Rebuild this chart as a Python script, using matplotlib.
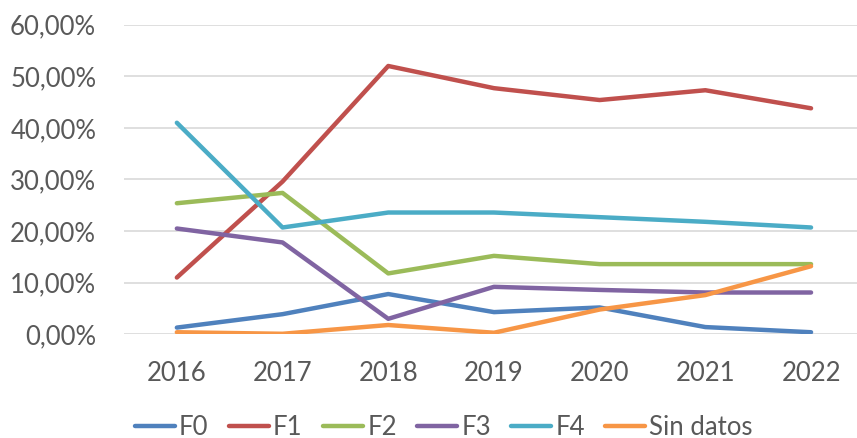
import matplotlib.pyplot as plt
from matplotlib.ticker import FuncFormatter

# Data (fractions)
years = ["2016", "2017", "2018", "2019", "2020", "2021", "2022"]
f0 = [0.013, 0.039, 0.078, 0.043, 0.052, 0.014, 0.004]
f1 = [0.110, 0.296, 0.520, 0.477, 0.454, 0.473, 0.438]
f2 = [0.254, 0.274, 0.118, 0.152, 0.136, 0.136, 0.136]
f3 = [0.205, 0.178, 0.030, 0.092, 0.086, 0.081, 0.081]
f4 = [0.410, 0.207, 0.236, 0.236, 0.227, 0.218, 0.207]
sin_datos = [0.004, 0.001, 0.018, 0.003, 0.048, 0.076, 0.132]

series = [("F0", f0, "#4F81BD"), ("F1", f1, "#C0504D"), ("F2", f2, "#9BBB59"),
          ("F3", f3, "#8064A2"), ("F4", f4, "#4BACC6"), ("Sin datos", sin_datos, "#F79646")]

plt.rcParams["font.family"] = ["Lato", "DejaVu Sans"]
text_col = "#595959"

fig = plt.figure(figsize=(8.57, 4.38), dpi=100)
W, H = 857, 438
left, right, top, bottom = 124, 857, 24.7, 334.3
ax = fig.add_axes([left / W, (H - bottom) / H, (right - left) / W, (bottom - top) / H])

x = list(range(len(years)))
for name, vals, col in series:
    ax.plot(x, vals, color=col, lw=3.2, label=name, solid_capstyle="round", solid_joinstyle="round")

ax.set_xlim(-0.5, -0.5 + (right - left) / 105.7)
ax.set_ylim(0, 0.6)
ax.set_yticks([i / 10 for i in range(7)])
ax.yaxis.set_major_formatter(FuncFormatter(lambda v, p: f"{v * 100:.2f}%".replace(".", ",")))
ax.set_xticks(x)
ax.set_xticklabels(years)
ax.grid(axis="y", color="#D9D9D9", lw=1.2)
ax.set_axisbelow(True)
for s in ax.spines.values():
    s.set_visible(False)
ax.tick_params(length=0, labelsize=18.5, colors=text_col)
ax.tick_params(axis="y", pad=20)
ax.tick_params(axis="x", pad=19)

fig.legend(loc="center", bbox_to_anchor=(0.518, 0.025), ncol=6, frameon=False,
           fontsize=18.5, handlelength=1.55, handletextpad=0.16, columnspacing=0.8,
           labelcolor=text_col)

fig.savefig("out.png", dpi=100)
